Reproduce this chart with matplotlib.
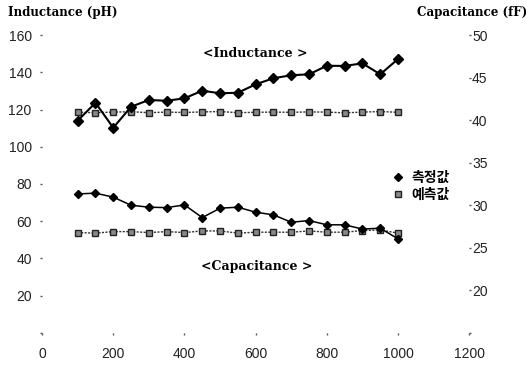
import matplotlib
matplotlib.use('Agg')
import matplotlib.pyplot as plt
from matplotlib.lines import Line2D


# frequency points (x axis)
freq = [100, 150, 200, 250, 300, 350, 400, 450, 500, 550,
        600, 650, 700, 750, 800, 850, 900, 950, 1000]

# inductance (pH), left axis
ind_meas = [114.0, 123.6, 110.2, 121.5, 125.1, 124.7, 126.0, 130.1, 128.7, 129.0,
            133.5, 136.8, 138.4, 138.9, 143.5, 143.4, 144.8, 138.9, 147.1]
ind_pred = [118.5, 118.3, 118.6, 118.8, 118.3, 118.6, 118.4, 118.7, 118.9, 118.3,
            118.5, 118.6, 118.5, 118.7, 118.6, 118.2, 118.6, 118.9, 118.5]

# capacitance (fF), right axis
cap_meas = [31.33, 31.42, 30.95, 30.0, 29.77, 29.72, 30.04, 28.55, 29.65, 29.77,
            29.18, 28.87, 28.0, 28.2, 27.7, 27.7, 27.2, 27.3, 26.05]
cap_pred = [26.79, 26.72, 26.9, 26.9, 26.79, 26.9, 26.79, 26.98, 26.98, 26.72,
            26.83, 26.83, 26.83, 26.98, 26.83, 26.83, 27.02, 27.1, 26.72]

xticks = [0, 200, 400, 600, 800, 1000, 1200]
lticks = [0, 20, 40, 60, 80, 100, 120, 140, 160]
rticks = [15, 20, 25, 30, 35, 40, 45, 50]

legend_labels = ['측정값', '예측값']

tickfont = 'Liberation Sans'
serif = 'DejaVu Serif'
kfont = 'Noto Sans CJK KR'

fig = plt.figure(figsize=(5.26, 3.65), dpi=100)
ax = fig.add_axes([0.080, 0.088, 0.812, 0.816])
ax2 = ax.twinx()

# measured: solid line, diamonds; predicted: dotted line, squares
meas_style = dict(color='black', marker='D', markersize=5.5, linewidth=1.5,
                  markerfacecolor='black', markeredgecolor='black')
pred_style = dict(color='#333333', marker='s', markersize=5, linewidth=1.0,
                  linestyle=(0, (1.5, 1)), markerfacecolor='#888888',
                  markeredgecolor='#222222')

ax.plot(freq, ind_pred, **pred_style)
ax.plot(freq, ind_meas, **meas_style)

ax2.plot(freq, cap_pred, **dict(pred_style, markersize=4))
ax2.plot(freq, cap_meas, **dict(meas_style, markersize=4, linewidth=1.1))

ax.set_xlim(0, 1200)
ax.set_ylim(0, 160)
ax2.set_ylim(15, 50)

ax.set_xticks(xticks)
ax.set_yticks(lticks)
ax2.set_yticks(rticks)
ax.set_yticklabels([''] + [str(v) for v in lticks[1:]])
ax2.set_yticklabels([''] + [str(v) for v in rticks[1:]])
ax.set_xticklabels([str(v) for v in xticks])

for a in (ax, ax2):
    for s in a.spines.values():
        s.set_visible(False)
    a.tick_params(length=1.5, width=1, color='#555555', labelsize=10,
                  labelcolor='#222222')
    for lab in a.get_xticklabels() + a.get_yticklabels():
        lab.set_fontfamily(tickfont)
ax.tick_params(axis='x', pad=9)
ax.tick_params(axis='y', pad=6)
ax2.tick_params(axis='y', pad=0.5)

# axis titles
fig.text(0.015, 0.965, 'Inductance (pH)', fontfamily=serif, fontweight='bold',
         fontsize=8.6, va='center', ha='left')
fig.text(0.792, 0.965, 'Capacitance (fF)', fontfamily=serif, fontweight='bold',
         fontsize=8.6, va='center', ha='left')

# in-plot labels
ax.text(600, 150, '<Inductance >', fontfamily=serif, fontweight='bold',
        fontsize=9, ha='center', va='center')
ax.text(604, 35.5, '<Capacitance >', fontfamily=serif, fontweight='bold',
        fontsize=9, ha='center', va='center')

handles = [Line2D([], [], linestyle='none', marker='D', markersize=4.5,
                  markerfacecolor='black', markeredgecolor='black'),
           Line2D([], [], linestyle='none', marker='s', markersize=4.5,
                  markerfacecolor='#888888', markeredgecolor='#222222')]
leg = fig.legend(handles, legend_labels, loc='upper left',
                 bbox_to_anchor=(0.722, 0.565), frameon=False,
                 handlelength=0.8, handletextpad=0.6, labelspacing=0.2,
                 prop={'family': kfont, 'weight': 'bold', 'size': 10})

fig.savefig('out.png', dpi=100)
